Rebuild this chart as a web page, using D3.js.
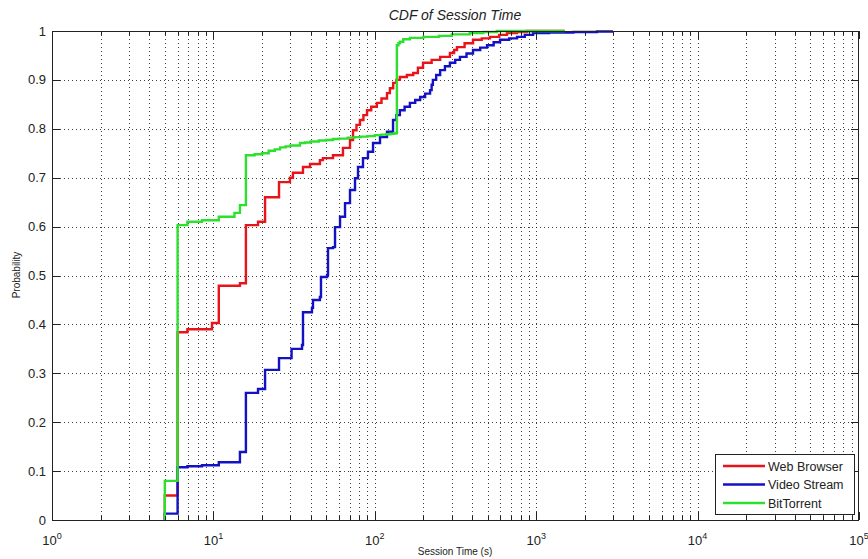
<!DOCTYPE html>
<html>
<head>
<meta charset="utf-8">
<script src="https://cdn.jsdelivr.net/npm/d3@7/dist/d3.min.js"></script>
<style>
  html, body { margin: 0; padding: 0; background: #fff; }
  svg { display: block; font-family: "Liberation Sans", Arial, sans-serif; }
</style>
</head>
<body>
<svg id="chart" width="868" height="559"></svg>
<script>
// Empirical CDF steps: [session time in seconds, cumulative probability]
const webBrowser = [
  [5, 0], [5, 0.05], [6, 0.384], [6.9, 0.39], [9.8, 0.403], [10.8, 0.479], [14.6, 0.484],
  [15.9, 0.603], [18.9, 0.61], [20.9, 0.66], [25.5, 0.691], [29.8, 0.70], [31.1, 0.71],
  [35.9, 0.722], [39.7, 0.728], [45.7, 0.736], [47.7, 0.74], [55.1, 0.746], [63.5, 0.761],
  [70.2, 0.777], [73.3, 0.797], [77, 0.808], [80.9, 0.818], [85, 0.828], [89.5, 0.838],
  [95, 0.845], [103, 0.853], [110, 0.862], [119, 0.873], [124, 0.883], [130, 0.894],
  [136, 0.9], [143, 0.906], [158, 0.91], [173, 0.914], [185, 0.925], [199, 0.935],
  [225, 0.941], [254, 0.947], [292, 0.955], [310, 0.961], [323, 0.967], [360, 0.975],
  [406, 0.982], [460, 0.985], [517, 0.988], [590, 0.992], [659, 0.996], [760, 0.998],
  [877, 1.0], [1500, 1.0]
];
const videoStream = [
  [5, 0], [5, 0.013], [6, 0.108], [6.9, 0.11], [8.5, 0.112], [10.8, 0.118], [14.6, 0.139],
  [15.9, 0.26], [18.9, 0.268], [20.9, 0.307], [25.5, 0.331], [30.5, 0.35], [35.4, 0.358],
  [35.9, 0.425], [40.8, 0.434], [41.4, 0.45], [45.7, 0.456], [46.4, 0.497], [50.6, 0.501],
  [51.3, 0.556], [55.1, 0.558], [56.7, 0.599], [60.9, 0.62], [65.4, 0.648], [70.2, 0.675],
  [75.4, 0.699], [78.7, 0.722], [84.5, 0.74], [90.7, 0.753], [97.5, 0.771], [107.7, 0.783],
  [119, 0.794], [129.7, 0.818], [136, 0.828], [143, 0.838], [153, 0.845], [165, 0.853],
  [178, 0.859], [191, 0.865], [205, 0.872], [220, 0.879], [225, 0.89], [229, 0.9],
  [240, 0.91], [254, 0.92], [272, 0.928], [292, 0.935], [315, 0.941], [337, 0.947],
  [370, 0.954], [406, 0.961], [450, 0.966], [496, 0.971], [545, 0.977], [597, 0.982],
  [680, 0.985], [761, 0.988], [850, 0.992], [956, 0.996], [1200, 0.997], [1700, 0.998],
  [2380, 0.999], [2990, 0.999]
];
const bitTorrent = [
  [5, 0], [5, 0.08], [6, 0.603], [6.9, 0.61], [8.5, 0.613], [10.8, 0.62], [13.5, 0.628],
  [14.6, 0.644], [15.9, 0.746], [18, 0.748], [20, 0.75], [22, 0.755], [24, 0.758],
  [25.9, 0.762], [28, 0.764], [30, 0.766], [34.4, 0.771], [37, 0.772], [40, 0.774],
  [45, 0.776], [50, 0.777], [55, 0.779], [60, 0.78], [68, 0.782], [75, 0.783], [82, 0.784],
  [90, 0.785], [100, 0.787], [110, 0.788], [118, 0.789], [125, 0.79], [132, 0.791],
  [137, 0.971], [140, 0.975], [143, 0.978], [150, 0.983], [165, 0.986], [200, 0.988],
  [250, 0.99], [300, 0.993], [387, 0.996], [470, 0.998], [570, 1.0], [1500, 1.0]
];

const seriesNames = ["Web Browser", "Video Stream", "BitTorrent"];
const seriesColors = ["#e8141a", "#1212c4", "#2ee02e"];
const xMajorTicks = [1, 10, 100, 1000, 10000, 100000];
const xTickExponents = ["0", "1", "2", "3", "4", "5"];
const yTicks = [0, 0.1, 0.2, 0.3, 0.4, 0.5, 0.6, 0.7, 0.8, 0.9, 1];
const yTickLabels = ["0", "0.1", "0.2", "0.3", "0.4", "0.5", "0.6", "0.7", "0.8", "0.9", "1"];

const svg = d3.select("#chart");
const plotLeft = 52, plotRight = 859, plotTop = 31, plotBottom = 520;

const x = d3.scaleLog().domain([1, 1e5]).range([plotLeft, plotRight]);
const y = d3.scaleLinear().domain([0, 1]).range([plotBottom, plotTop]);

const allXTicks = x.ticks();            // 1..9 multiples of every decade
const minorX = allXTicks.filter(v => !xMajorTicks.includes(v));

// dotted grid
const grid = svg.append("g").attr("stroke", "#000").attr("stroke-width", 1)
  .attr("stroke-dasharray", "1,3").attr("shape-rendering", "crispEdges");
allXTicks.forEach(v => {
  if (v === 1 || v === 1e5) return;
  const px = Math.round(x(v)) + 0.5;
  grid.append("line").attr("x1", px).attr("x2", px).attr("y1", plotTop).attr("y2", plotBottom)
    .attr("stroke-opacity", 0.75);
});
yTicks.forEach(v => {
  if (v === 0 || v === 1) return;
  const py = Math.round(y(v)) + 0.5;
  grid.append("line").attr("x1", plotLeft).attr("x2", plotRight).attr("y1", py).attr("y2", py)
    .attr("stroke-opacity", 0.75);
});

// CDF step lines
const line = d3.line().x(d => x(d[0])).y(d => y(d[1])).curve(d3.curveStepAfter);
[webBrowser, videoStream, bitTorrent].forEach((data, i) => {
  svg.append("path").datum(data).attr("d", line)
    .attr("fill", "none").attr("stroke", seriesColors[i]).attr("stroke-width", 2.4)
    .attr("stroke-linejoin", "miter");
});

// frame and inward ticks
const frame = svg.append("g").attr("stroke", "#222").attr("stroke-width", 1)
  .attr("shape-rendering", "crispEdges");
frame.append("rect").attr("x", plotLeft + 0.5).attr("y", plotTop + 0.5)
  .attr("width", plotRight - plotLeft - 1).attr("height", plotBottom - plotTop).attr("fill", "none");
xMajorTicks.forEach(v => {
  const px = Math.round(x(v)) + 0.5;
  frame.append("line").attr("x1", px).attr("x2", px).attr("y1", plotBottom).attr("y2", plotBottom - 8);
  frame.append("line").attr("x1", px).attr("x2", px).attr("y1", plotTop).attr("y2", plotTop + 8);
});
minorX.forEach(v => {
  const px = Math.round(x(v)) + 0.5;
  frame.append("line").attr("x1", px).attr("x2", px).attr("y1", plotBottom).attr("y2", plotBottom - 4);
  frame.append("line").attr("x1", px).attr("x2", px).attr("y1", plotTop).attr("y2", plotTop + 4);
});
yTicks.forEach(v => {
  const py = Math.round(y(v)) + 0.5;
  frame.append("line").attr("x1", plotLeft).attr("x2", plotLeft + 8).attr("y1", py).attr("y2", py);
  frame.append("line").attr("x1", plotRight - 8).attr("x2", plotRight).attr("y1", py).attr("y2", py);
});

// y tick labels
svg.append("g").selectAll("text").data(yTicks).join("text")
  .attr("x", plotLeft - 6).attr("y", d => y(d) + 4.5)
  .attr("text-anchor", "end").attr("font-size", 13).attr("fill", "#222")
  .text((d, i) => yTickLabels[i]);

// x tick labels: 10 with superscript exponent
const xl = svg.append("g").selectAll("text").data(xMajorTicks).join("text")
  .attr("x", d => x(d)).attr("y", 545)
  .attr("text-anchor", "middle").attr("font-size", 13).attr("fill", "#222");
xl.append("tspan").text("10");
xl.append("tspan").attr("dy", -6).attr("font-size", 9).text((d, i) => xTickExponents[i]);

// title and axis labels
svg.append("text").attr("x", 455).attr("y", 20).attr("text-anchor", "middle")
  .attr("font-size", 14).attr("font-style", "italic").attr("fill", "#222")
  .text("CDF of Session Time");
svg.append("text").attr("x", 455).attr("y", 555).attr("text-anchor", "middle")
  .attr("font-size", 10).attr("fill", "#222").text("Session Time (s)");
svg.append("text").attr("transform", "translate(20,275) rotate(-90)")
  .attr("text-anchor", "middle").attr("font-size", 10).attr("fill", "#222")
  .text("Probability");

// legend
const lg = svg.append("g");
lg.append("rect").attr("x", 715.5).attr("y", 454.5).attr("width", 139).attr("height", 60)
  .attr("fill", "#fff").attr("stroke", "#222").attr("shape-rendering", "crispEdges");
seriesNames.forEach((name, i) => {
  const cy = 466 + i * 18.5;
  lg.append("line").attr("x1", 723).attr("x2", 765).attr("y1", cy).attr("y2", cy)
    .attr("stroke", seriesColors[i]).attr("stroke-width", 2.4);
  lg.append("text").attr("x", 768).attr("y", cy + 4.5).attr("font-size", 12.5)
    .attr("fill", "#222").text(name);
});
</script>
</body>
</html>
